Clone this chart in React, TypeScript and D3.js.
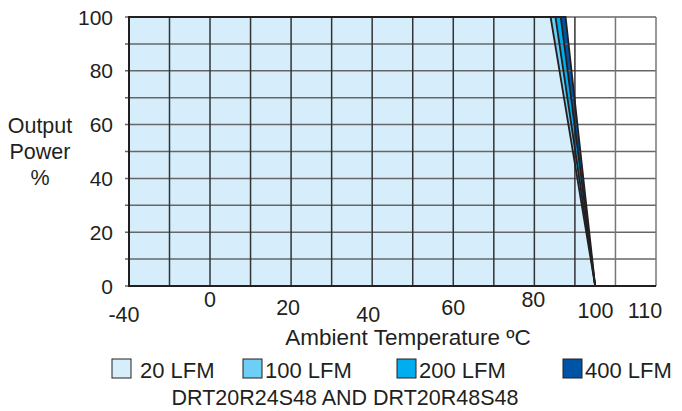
import React from 'react';
import * as d3 from 'd3';

// derating curves (°C where derating starts, °C where output reaches 0)
const airflows = ["20 LFM", "100 LFM", "200 LFM", "400 LFM"];
const kneeTemps = [84, 85.2, 86.5, 87.7];
const zeroTemps = [95, 95, 95, 95];
const fullPower = 100;
const minTemp = -40;

const xGrid = [-40, -20, 0, 10, 20, 30, 40, 50, 60, 70, 80, 90, 100, 110];
const yGrid = [0, 10, 20, 30, 40, 50, 60, 70, 80, 90, 100];
const xTicks = [-40, 0, 20, 40, 60, 80, 100, 110];
const yTicks = [0, 20, 40, 60, 80, 100];
const yTitle = ["Output", "Power", "%"];
const xTitle = "Ambient Temperature ºC";
const caption = "DRT20R24S48 AND DRT20R48S48";

// styling / layout
const colors = ["#d6eefb", "#6dcff6", "#00aeef", "#0054a6"];
const legendX = [112, 243, 397, 563];
// the original labels sit a little off their grid lines
const xTickNudge: Record<string, [number, number]> = {
  "-40": [-5, 36], "0": [0, 21], "20": [-3, 29], "40": [-4, 36],
  "60": [0, 29], "80": [-1, 21], "100": [-20, 32], "110": [-11, 32],
};
const font = "'Liberation Sans', Arial, sans-serif";
const ink = "#231f20";

export default function App() {
  const left = 129, right = 656, top = 17, bottom = 286;

  const x = d3.scaleLinear().domain([-40, 0, 110]).range([left, 210, right]);
  const y = d3.scaleLinear().domain([0, 100]).range([bottom, top]);

  const line = d3.line<[number, number]>()
    .x(d => x(d[0]))
    .y(d => y(d[1]));

  const shapes = airflows.map((name, i) => ({
    name,
    color: colors[i],
    d: line([
      [minTemp, 0],
      [minTemp, fullPower],
      [kneeTemps[i], fullPower],
      [zeroTemps[i], 0],
    ]) + "Z",
  }));
  // largest area first so the 20 LFM fill ends on top
  const drawOrder = shapes.slice().reverse();

  return (
    <svg width={682} height={411} style={{ position: "absolute", left: 0, top: 0 }}
      fontFamily={font} fill={ink}>
      <rect x={0} y={0} width={682} height={411} fill="#fff" />

      {drawOrder.map(s => (
        <path key={s.name + "f"} d={s.d} fill={s.color} stroke="none" />
      ))}

      {yGrid.map(v => (
        <line key={"h" + v} x1={left - 4} x2={right} y1={y(v)} y2={y(v)}
          stroke="#666" strokeWidth={1.5} />
      ))}
      {xGrid.map(v => (
        <line key={"v" + v} x1={x(v)} x2={x(v)} y1={top} y2={bottom}
          stroke={v > 90 ? "#777" : "#333"} strokeWidth={1.5} />
      ))}

      {drawOrder.map(s => (
        <path key={s.name + "s"} d={s.d} fill="none" stroke="#231f20" strokeWidth={1.8}
          strokeLinejoin="miter" />
      ))}
      <line x1={left} x2={right} y1={bottom} y2={bottom} stroke={ink} strokeWidth={1.8} />
      <line x1={left} x2={left} y1={top} y2={bottom} stroke={ink} strokeWidth={1.8} />

      {yTicks.map(v => (
        <text key={"yt" + v} x={113} y={y(v) + 7.5} textAnchor="end" fontSize={21}>{v}</text>
      ))}
      {xTicks.map(v => {
        const [dx, dy] = xTickNudge[String(v)];
        return (
          <text key={"xt" + v} x={x(v) + dx} y={bottom + dy} textAnchor="middle" fontSize={21.5}>{v}</text>
        );
      })}

      {yTitle.map((t, i) => (
        <text key={t} x={40} y={133 + i * 26} textAnchor="middle" fontSize={21.5}>{t}</text>
      ))}
      <text x={408} y={345} textAnchor="middle" fontSize={22.5}>{xTitle}</text>

      {shapes.map((s, i) => (
        <g key={"lg" + s.name} transform={`translate(${legendX[i]},359)`}>
          <rect x={0} y={0} width={19} height={19} fill={s.color} stroke={ink} strokeWidth={1} />
          <text x={i === 0 ? 28 : 22} y={19} fontSize={22}>{s.name}</text>
        </g>
      ))}
      <text x={345} y={405} textAnchor="middle" fontSize={21.5}>{caption}</text>
    </svg>
  );
}
